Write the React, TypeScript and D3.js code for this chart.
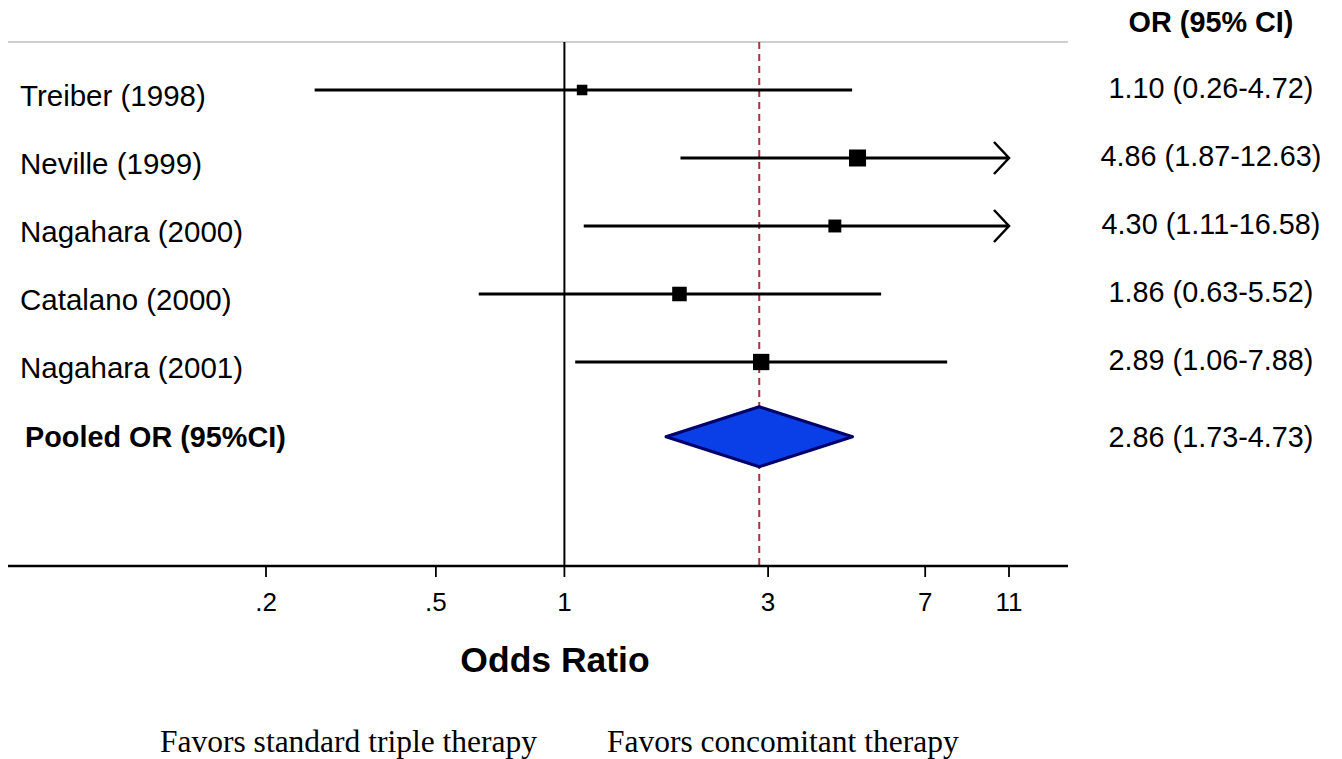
import React from 'react'
import {scaleLog, scaleLinear, scaleSqrt} from 'd3'

// study rows
const studies = ['Treiber (1998)', 'Neville (1999)', 'Nagahara (2000)', 'Catalano (2000)', 'Nagahara (2001)']
const oddsRatios = [1.10, 4.86, 4.30, 1.86, 2.89]
const lowerCI = [0.26, 1.87, 1.11, 0.63, 1.06]
const upperCI = [4.72, 12.63, 16.58, 5.52, 7.88]
// study weights (%)
const weights = [10, 26, 15, 19, 24]

const pooledLabel = 'Pooled OR (95%CI)'
const pooledOR = 2.86
const pooledLower = 1.73
const pooledUpper = 4.73

const tickValues = [0.2, 0.5, 1, 3, 7, 11]
const tickLabels = ['.2', '.5', '1', '3', '7', '11']

const W = 1342
const H = 759
const sans = 'Arial, "Liberation Sans", sans-serif'
const serif = '"Times New Roman", "Liberation Serif", serif'

const fmt = (v) => v.toFixed(2)

const App = () => {
    const x = scaleLog().domain([0.2, 11]).range([266, 1009])
    const y = scaleLinear().domain([0, 1]).range([90, 158])
    const size = scaleSqrt().domain([0, 26]).range([0, 17])

    const left = 8
    const right = 1068
    const top = 42
    const axisY = 566
    const xMax = 11
    const pooledRow = 5.1
    const py = y(pooledRow)

    return (
        <div>
            <style>{'body{margin:0}'}</style>
            <svg width={W} height={H} viewBox={`0 0 ${W} ${H}`} style={{display: 'block', background: '#fff'}}>
                <line x1={left} x2={right} y1={top} y2={top} stroke="#cfcfcf" strokeWidth={2} />

                {/* null line and pooled line */}
                <line x1={x(1)} x2={x(1)} y1={top} y2={axisY} stroke="#000" strokeWidth={2} />
                <line x1={x(pooledOR)} x2={x(pooledOR)} y1={top} y2={axisY}
                    stroke="#a8323e" strokeWidth={2} strokeDasharray="7,5" />

                {studies.map((s, i) => {
                    const cy = y(i)
                    const hi = Math.min(upperCI[i], xMax)
                    const clipped = upperCI[i] > xMax
                    const r = size(weights[i])
                    return (
                        <g key={s}>
                            <line x1={x(lowerCI[i])} x2={x(hi)} y1={cy} y2={cy} stroke="#000" strokeWidth={3} />
                            {clipped && (
                                <path d={`M${x(hi) - 15},${cy - 16}L${x(hi)},${cy}L${x(hi) - 15},${cy + 16}`}
                                    fill="none" stroke="#000" strokeWidth={2.5} />
                            )}
                            <rect x={x(oddsRatios[i]) - r / 2} y={cy - r / 2} width={r} height={r} fill="#000" />
                            <text x={20} y={cy + 16} fontFamily={sans} fontSize={29.5}>{s}</text>
                            <text x={1211} y={cy + 8} fontFamily={sans} fontSize={28.8} textAnchor="middle">
                                {`${fmt(oddsRatios[i])} (${fmt(lowerCI[i])}-${fmt(upperCI[i])})`}
                            </text>
                        </g>
                    )
                })}

                <path d={`M${x(pooledLower)},${py}L${x(pooledOR)},${py - 30}L${x(pooledUpper)},${py}L${x(pooledOR)},${py + 30}Z`}
                    fill="#0a3ee6" stroke="#00006b" strokeWidth={3} strokeLinejoin="round" />
                <text x={25} y={py + 10} fontFamily={sans} fontSize={28.8} fontWeight="bold">{pooledLabel}</text>
                <text x={1211} y={py + 10} fontFamily={sans} fontSize={28.8} textAnchor="middle">
                    {`${fmt(pooledOR)} (${fmt(pooledLower)}-${fmt(pooledUpper)})`}
                </text>

                <text x={1211} y={32} fontFamily={sans} fontSize={28.8} fontWeight="bold" textAnchor="middle">OR (95% CI)</text>

                {/* x axis */}
                <line x1={left} x2={right} y1={axisY} y2={axisY} stroke="#000" strokeWidth={2.5} />
                {tickValues.map((t, i) => (
                    <g key={t}>
                        <line x1={x(t)} x2={x(t)} y1={axisY} y2={axisY + 11} stroke="#000" strokeWidth={1.8} />
                        <text x={x(t)} y={611} fontFamily={sans} fontSize={26} textAnchor="middle">{tickLabels[i]}</text>
                    </g>
                ))}
                <text x={555} y={672} fontFamily={sans} fontSize={35.5} fontWeight="bold" textAnchor="middle">Odds Ratio</text>

                <text x={160} y={752} fontFamily={serif} fontSize={31.5}>Favors standard triple therapy</text>
                <text x={607} y={752} fontFamily={serif} fontSize={31.5}>Favors concomitant therapy</text>
            </svg>
        </div>
    )
}

export default App
